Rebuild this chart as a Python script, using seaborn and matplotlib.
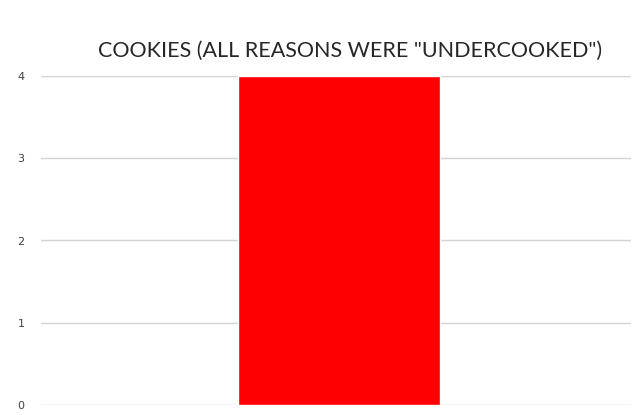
import matplotlib
matplotlib.use("Agg")
import matplotlib.pyplot as plt
import seaborn as sns
import pandas as pd

reasons = ["Undercooked"]
counts = [4]
y_ticks = [0, 1, 2, 3, 4]
title = 'COOKIES (ALL REASONS WERE "UNDERCOOKED")'

df = pd.DataFrame({"reason": reasons, "count": counts})

sns.set_theme(style="white")
plt.rcParams["font.family"] = ["Liberation Sans Narrow", "Lato", "DejaVu Sans"]

fig = plt.figure(figsize=(6.4, 4.15), dpi=100)
ax = fig.add_axes([41 / 640, 1 - 405 / 415, 590 / 640, 329 / 415])

sns.barplot(data=df, x="reason", y="count", color="#ff0000", saturation=1,
            width=0.342, ax=ax, zorder=3)
ax.set_xlim(-0.505, 0.495)
ax.set_ylim(0, 4)
ax.set_yticks(y_ticks)
ax.set_yticklabels([str(t) for t in y_ticks], fontsize=8, color="#404040",
                   family=["DejaVu Sans"])
ax.tick_params(axis="y", length=0, pad=12)
ax.set_xticks([])
ax.set_xlabel("")
ax.set_ylabel("")
ax.grid(axis="y", color="#d4d4d4", linewidth=1.0, zorder=0)
for s in ax.spines.values():
    s.set_visible(False)

fig.text(350 / 640, 1 - 51 / 415, title, ha="center", va="center",
         fontsize=15.5, color="#262626")

fig.savefig("out.png", dpi=100)
